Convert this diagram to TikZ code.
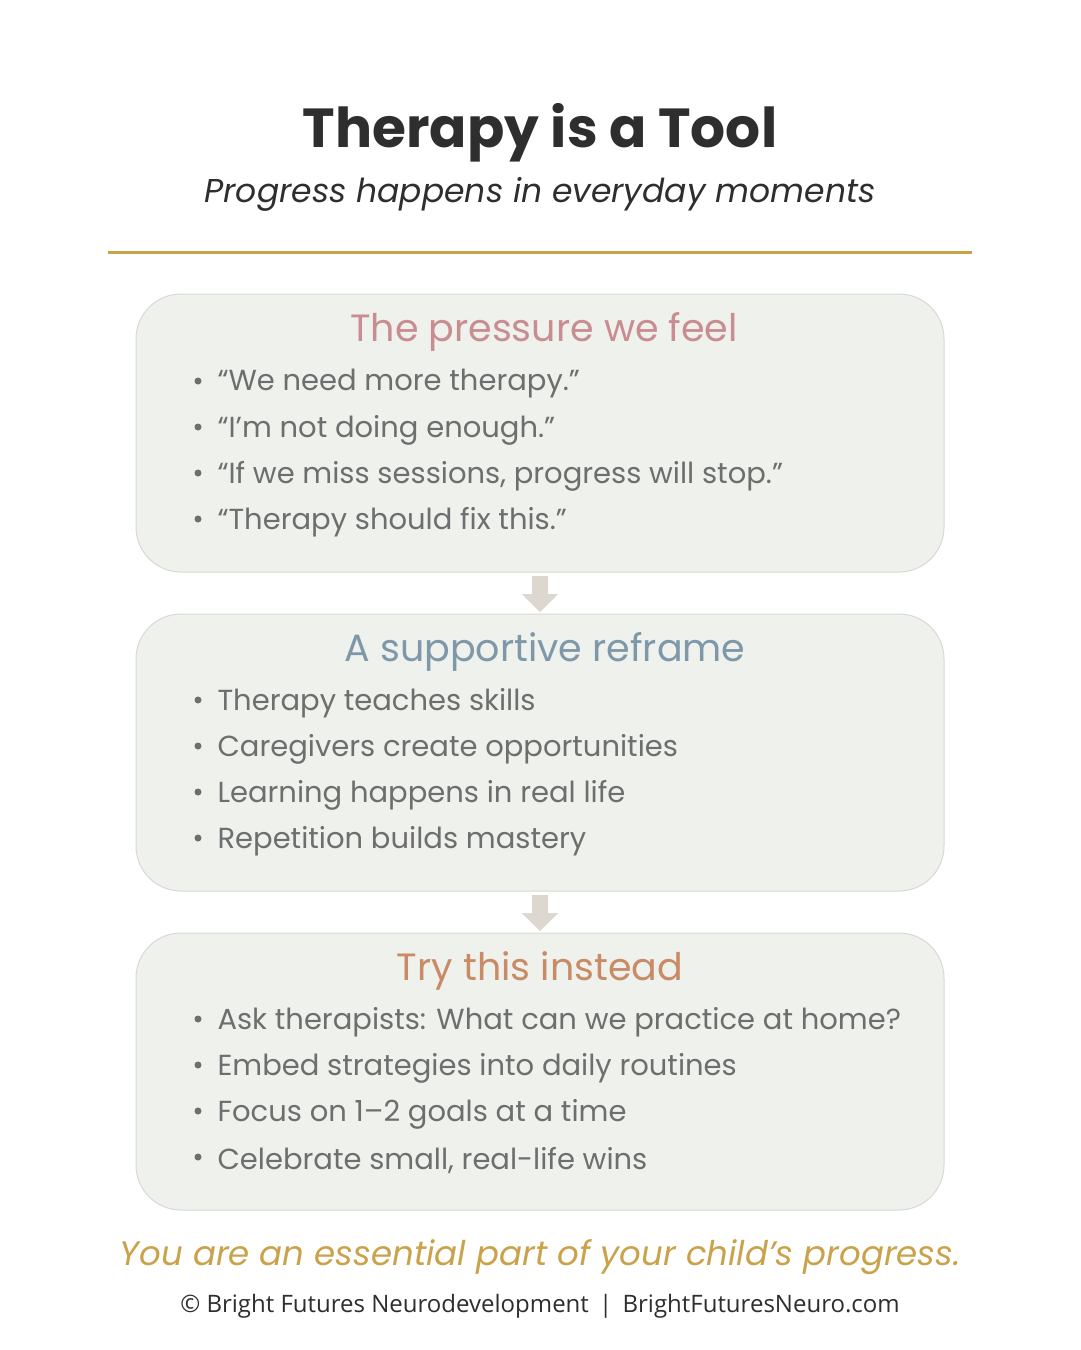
\documentclass[tikz,border=0pt]{standalone}
\usepackage{fontspec}
\setmainfont{Poppins}
\newfontfamily\foot{Open Sans}
\usetikzlibrary{arrows.meta}
\definecolor{boxfill}{HTML}{EEF1EC}
\definecolor{boxline}{HTML}{DAD9D0}
\definecolor{gold}{HTML}{C9A24A}
\definecolor{pinkh}{HTML}{C98C90}
\definecolor{blueh}{HTML}{7E98A9}
\definecolor{orangeh}{HTML}{C98A66}
\definecolor{bodyc}{HTML}{6E6E6E}
\definecolor{titlec}{HTML}{2E2E2E}
\definecolor{arrowc}{HTML}{DCD8D0}
\tikzset{
 panel/.style={draw=boxline,line width=1pt,fill=boxfill,rounded corners=45pt},
 head/.style={font=\fontsize{38}{42}\selectfont,anchor=center},
 item/.style={font=\fontsize{29}{33}\selectfont,text=bodyc,anchor=west},
 dot/.style={circle,fill=bodyc,inner sep=0pt,minimum size=7pt},
 flow/.style={draw=none,fill=arrowc}
}
\newcommand{\bulletlist}[3]{%
 \foreach \t [count=\i] in {#3} {
  \node[dot] (#1d\i) at (198,{#2+46*(\i-1)}) {};
  \node[item] (#1t\i) at (214,{#2+3+46*(\i-1)}) {\t};
 }}
\begin{document}
\begin{tikzpicture}[x=1pt,y=-1pt]
\useasboundingbox[fill=white] (0,0) rectangle (1080,1350);
\node[font=\bfseries\fontsize{55}{60}\selectfont,text=titlec] (title) at (540,133) {Therapy is a Tool};
\node[font=\itshape\fontsize{33}{38}\selectfont,text=titlec] (sub) at (540,194) {Progress happens in everyday moments};
\draw[gold,line width=3pt] (108,252) coordinate (l1) -- (972,252) coordinate (l2);
\draw[panel] (136,294) rectangle (944,572);
\draw[panel] (136,614) rectangle (944,891);
\draw[panel] (136,933) rectangle (944,1210);
\node[head,text=pinkh] (h1) at (544,332) {The pressure we feel};
\node[head,text=blueh] (h2) at (545,652) {A supportive reframe};
\node[head,text=orangeh] (h3) at (540,971) {Try this instead};
\bulletlist{a}{381}{{“We need more therapy.”},{“I’m not doing enough.”},{“If we miss sessions, progress will stop.”},{“Therapy should fix this.”}}
\bulletlist{b}{700}{{Therapy teaches skills},{Caregivers create opportunities},{Learning happens in real life},{Repetition builds mastery}}
\bulletlist{c}{1019}{{Ask therapists: What can we practice at home?},{Embed strategies into daily routines},{Focus on 1–2 goals at a time},{Celebrate small, real-life wins}}
\fill[flow] (532,576) -- (548,576) -- (548,594) -- (558,594) -- (540,612) -- (522,594) -- (532,594) -- cycle;
\fill[flow] (532,895) -- (548,895) -- (548,913) -- (558,913) -- (540,931) -- (522,913) -- (532,913) -- cycle;
\node[font=\itshape\fontsize{34}{38}\selectfont,text=gold] (msg) at (540,1257) {You are an essential part of your child’s progress.};
\node[font=\foot\fontsize{24}{28}\selectfont,text=titlec] (copy) at (540,1306) {© Bright Futures Neurodevelopment \,|\, BrightFuturesNeuro.com};
\end{tikzpicture}
\end{document}
